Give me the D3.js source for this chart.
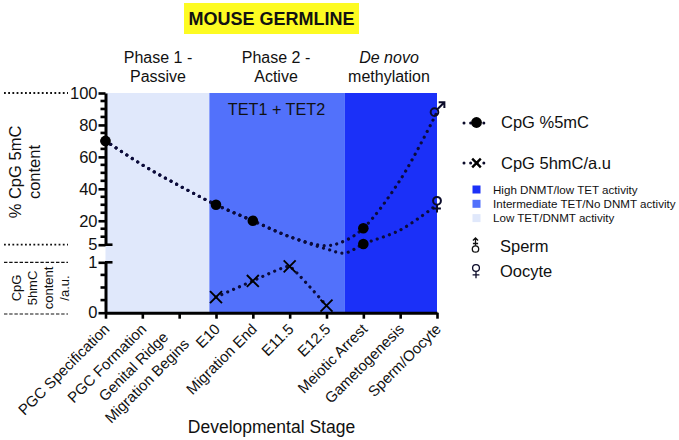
<!DOCTYPE html>
<html><head><meta charset="utf-8">
<script src="https://cdn.jsdelivr.net/npm/d3@7/dist/d3.min.js"></script>
<style>html,body{margin:0;padding:0;background:#fff}svg{display:block}text{font-family:"Liberation Sans",Arial,sans-serif;fill:#111}</style>
</head><body><svg id="c" width="679" height="440"></svg>
<script>
const stages=["PGC Specification","PGC Formation","Genital Ridge|Migration Begins","E10","Migration End","E11.5","E12.5","Meiotic Arrest","Gametogenesis","Sperm/Oocyte"];
const curvePositions=[0,1,2,3,4,5,6,6.5,7,8,9];
const spermCurve=[70,55,42,30,20,10,4.4,7.5,15.3,45.5,88];
const oocyteCurve=[70,55,42,30,20,10,2.3,-0.2,5.4,14.2,30];
const dotsCommon=[[0,70],[3,30],[4,20]];
const dotsSplit=[[7,15.3],[7,5.4]];
const hmcIndex=[3,4,5,6];
const hmcValues=[0.31,0.63,0.92,0.14];
const bands=[{from:0,to:2.82,c:"#e0e8fb"},{from:2.82,to:6.5,c:"#5271fb"},{from:6.5,to:9,c:"#1b30f8"}];
const majorTop=[100,80,60,40,20,5];
const minorTop=[95,90,85,75,70,65,55,50,45,35,30,25,15,10];
const majorBottom=[1,0];
const minorBottom=[0.25,0.5,0.75];
const legendSwatches=[["High DNMT/low TET activity","#1b30f8"],["Intermediate TET/No DNMT activity","#5271fb"],["Low TET/DNMT activity","#e0e8fb"]];

const svg=d3.select("#c");
const x=d3.scaleLinear().domain([0,9]).range([105.5,437]);
const yT=d3.scaleLinear().domain([5,100]).range([244.7,93]);
const yB=d3.scaleLinear().domain([0,1]).range([312.7,262.3]);
const tx=(s,px,py,o={})=>svg.append("text").attr("x",px).attr("y",py).attr("font-size",o.fs||16).attr("text-anchor",o.a||"middle").attr("font-style",o.i?"italic":null).attr("font-weight",o.b?"bold":null).text(s);

svg.append("rect").attr("x",184).attr("y",3).attr("width",175).attr("height",31).attr("fill","#fdfb22");
tx("MOUSE GERMLINE",271.5,25,{fs:18,b:true});
tx("Phase 1 -",158,63);tx("Passive",158,82);
tx("Phase 2 -",276,63);tx("Active",276,82);
tx("De novo",389,63,{i:true});tx("methylation",389,82);
svg.selectAll("rect.b").data(bands).join("rect").attr("class","b")
 .attr("x",d=>x(d.from)).attr("width",d=>x(d.to)-x(d.from))
 .attr("y",yT(100)).attr("height",yB(0)-yT(100)).attr("fill",d=>d.c);
tx("TET1 + TET2",276.5,115,{fs:16.2});

const dots=(sel)=>sel.attr("fill","none").attr("stroke","#0b0b3a").attr("stroke-width",3.2).attr("stroke-linecap","round").attr("stroke-dasharray","0.01 6.4");
const lT=d3.line().x((d,i)=>x(curvePositions[i])).y(d=>yT(d)).curve(d3.curveCatmullRom.alpha(0.5));
dots(svg.append("path").attr("d",lT(spermCurve)));
dots(svg.append("path").attr("d",lT(oocyteCurve)));
const lB=d3.line().x((d,i)=>x(hmcIndex[i])).y(d=>yB(d)).curve(d3.curveCardinal.tension(0.7));
dots(svg.append("path").attr("d",lB(hmcValues)));
svg.selectAll("circle.m").data(dotsCommon.concat(dotsSplit)).join("circle").attr("class","m")
 .attr("cx",d=>x(d[0])).attr("cy",d=>yT(d[1])).attr("r",5.3).attr("fill","#000");
const cross=d3.symbol().type(d3.symbolTimes).size(95);
svg.selectAll("path.x").data(hmcValues).join("path").attr("class","x")
 .attr("transform",(d,i)=>`translate(${x(hmcIndex[i])},${yB(d)})`).attr("d",cross).attr("fill","none").attr("stroke","#000").attr("stroke-width",1.9);
const ex=x(9);
function male(g,px,py,r,w){
 g.append("circle").attr("cx",px).attr("cy",py).attr("r",r).attr("fill","none").attr("stroke","#0b0b2a").attr("stroke-width",w);
 g.append("path").attr("d",`M${px+r*0.7},${py-r*0.7}L${px+r*2.6},${py-r*2.6}M${px+r*1.1},${py-r*2.6}H${px+r*2.6}V${py-r*1.1}`).attr("fill","none").attr("stroke","#0b0b2a").attr("stroke-width",w);
}
function female(g,px,py,r,w){
 g.append("circle").attr("cx",px).attr("cy",py).attr("r",r).attr("fill","none").attr("stroke","#0b0b2a").attr("stroke-width",w);
 g.append("path").attr("d",`M${px},${py+r}V${py+r*3}M${px-r},${py+r*2}H${px+r}`).attr("fill","none").attr("stroke","#0b0b2a").attr("stroke-width",w);
}
male(svg,ex-2.5,yT(spermCurve[10]),3.8,2);
female(svg,ex,yT(oocyteCurve[10])-4,3.9,2);

const axisStyle=g=>{g.select(".domain").attr("stroke","#000").attr("stroke-width",3);g.selectAll("line").attr("stroke","#000").attr("stroke-width",2.6);g.selectAll("text").attr("font-size",16.5).attr("fill","#111")};
const gT=svg.append("g").attr("transform","translate(105.5,0)");
gT.call(d3.axisLeft(yT).tickValues(majorTop).tickSize(7).tickSizeOuter(0).tickPadding(1).tickFormat(d3.format("d"))).call(axisStyle);
gT.selectAll("line.mn").data(minorTop).join("line").attr("class","mn").attr("x1",-5).attr("x2",0).attr("y1",d=>yT(d)).attr("y2",d=>yT(d)).attr("stroke","#000").attr("stroke-width",2.6);
const gB=svg.append("g").attr("transform","translate(105.5,0)");
gB.call(d3.axisLeft(yB).tickValues(majorBottom).tickSize(7).tickSizeOuter(0).tickPadding(1).tickFormat(d3.format("d"))).call(axisStyle);
gB.selectAll("line.mn").data(minorBottom).join("line").attr("class","mn").attr("x1",-5).attr("x2",0).attr("y1",d=>yB(d)).attr("y2",d=>yB(d)).attr("stroke","#000").attr("stroke-width",2.6);
[yT(5),yB(1)].forEach(v=>svg.append("line").attr("x1",105).attr("x2",112.5).attr("y1",v).attr("y2",v).attr("stroke","#000").attr("stroke-width",2.6));
const gX=svg.append("g").attr("transform",`translate(0,${yB(0)})`);
gX.call(d3.axisBottom(x).tickValues(d3.range(10)).tickSize(6).tickSizeOuter(0).tickFormat("")).call(axisStyle);
stages.forEach((s,i)=>{
 const parts=s.split("|");
 parts.forEach((p,k)=>{
  const off=parts.length>1?(k===0?[-15,8]:[6,15]):[0,0];
  svg.append("text").attr("text-anchor","end").attr("font-size",15)
   .attr("transform",`translate(${x(i)+5+off[0]},${330+off[1]}) rotate(-45)`).text(p);
 });
});
tx("Developmental Stage",271.5,433,{fs:17.5});

const vt=(s,px,py,fs)=>svg.append("text").attr("transform",`translate(${px},${py}) rotate(-90)`).attr("text-anchor","middle").attr("font-size",fs).text(s);
vt("% CpG 5mC",21,172,16.5);vt("content",40,172,16.5);
vt("CpG",21,288,13);vt("5hmC",37,288,13);vt("content",53,288,13);vt("/a.u.",69,288,13);
const hl=(y,dash)=>svg.append("line").attr("x1",4).attr("x2",68).attr("y1",y).attr("y2",y).attr("stroke","#111").attr("stroke-width",dash==="dot"?1.8:1.2).attr("stroke-dasharray",dash==="dot"?"1.8 2.4":"3.4 1.8");
hl(93,"dot");hl(244.7,"dot");hl(262.3,"dash");hl(314,"dash");

const lg=(yy)=>{svg.append("line").attr("x1",464).attr("x2",488).attr("y1",yy).attr("y2",yy).attr("stroke","#0b0b2a").attr("stroke-width",3).attr("stroke-linecap","round").attr("stroke-dasharray","0.01 6.6")};
lg(123);svg.append("circle").attr("cx",476.5).attr("cy",122.5).attr("r",5.4).attr("fill","#000");
tx("CpG %5mC",501,128,{a:"start",fs:16.5});
lg(163);svg.append("path").attr("transform","translate(476.5,163)").attr("d",d3.symbol().type(d3.symbolTimes).size(50)).attr("fill","none").attr("stroke","#000").attr("stroke-width",2.4);
tx("CpG 5hmC/a.u",501,169,{a:"start",fs:16.5});
legendSwatches.forEach((d,i)=>{
 const yy=189.5+i*14.3;
 svg.append("rect").attr("x",472.5).attr("y",yy-4).attr("width",8).attr("height",8).attr("fill",d[1]);
 tx(d[0],493,yy+4,{a:"start",fs:11.6});
});
const gl=svg.append("g");
{const px=475.5,py=249,r=3.2;
 gl.append("circle").attr("cx",px).attr("cy",py).attr("r",r).attr("fill","none").attr("stroke","#111").attr("stroke-width",1.3);
 gl.append("path").attr("d",`M${px},${py-r}V${py-11}M${px-2.6},${py-8.6}L${px},${py-11}L${px+2.6},${py-8.6}M${px-2.6},${py-5.5}H${px+2.6}`).attr("fill","none").attr("stroke","#111").attr("stroke-width",1.3);}
female(gl,476,268,3.4,1.3);
tx("Sperm",500,252,{a:"start",fs:16.5});
tx("Oocyte",500,277,{a:"start",fs:16.5});
</script></body></html>
